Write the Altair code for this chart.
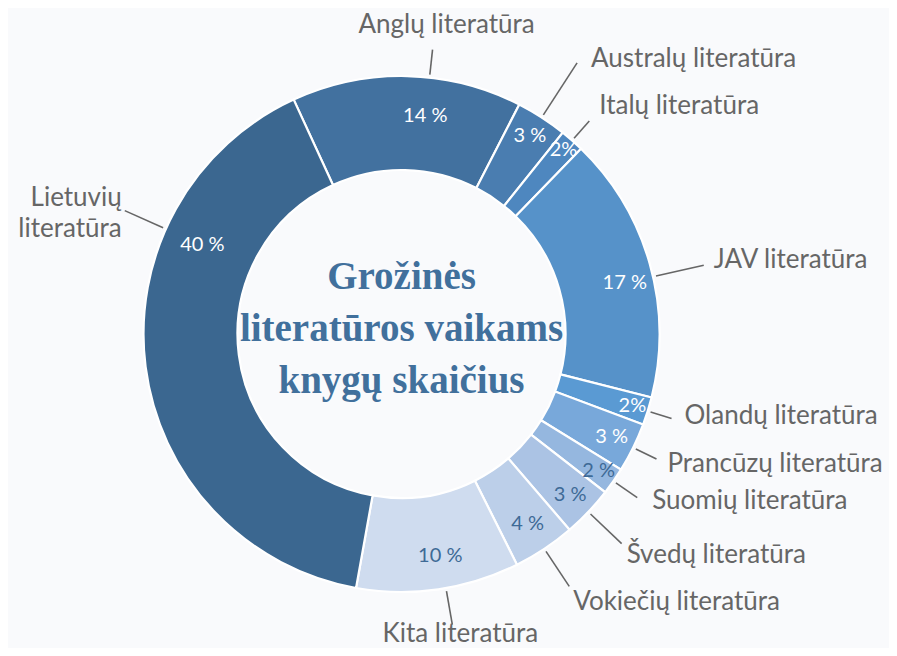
import math
import altair as alt
import pandas as pd

# ---- data ----
categories = ["Anglų literatūra", "Australų literatūra", "Italų literatūra", "JAV literatūra",
              "Olandų literatūra", "Prancūzų literatūra", "Suomių literatūra", "Švedų literatūra",
              "Vokiečių literatūra", "Kita literatūra", "Lietuvių\nliteratūra"]
shares = [14.4, 3.2, 1.5, 16.7, 1.75, 3.1, 1.7, 3.2, 3.9, 10.2, 40.3]
pct_labels = ["14 %", "3 %", "2%", "17 %", "2%", "3 %", "2 %", "3 %", "4 %", "10 %", "40 %"]
colors = ["#42719f", "#4a7db0", "#4e87bf", "#5692c9", "#5a9ad3", "#78a8da", "#95b7df",
          "#abc3e4", "#bccfe9", "#cfdcef", "#3b6790"]
title_lines = ["Grožinės", "literatūros vaikams", "knygų skaičius"]

# ---- layout ----
W, H = 881, 640
CX, CY = 393.5, 326.0
R_OUT, R_IN = 258, 164
START_DEG = -24.7
anchor_shift = [5, 0, 0, 3, 0, 0, 0, 0, 0, -1.7, 31.3]
pct_r = [219, 236, 245, 229, 242, 234, 240, 233, 228, 225, 218]
line_r0 = 261
line_r1 = [286, 323, 284, 310, 283, 284, 287, 304, 303, 295, 303]
lab_dx = [14, 14, 10, 10, 13, 11, 15, 5, 4, 8, -3]
lab_dy = [-25, -4, -15, -5.5, -3, 4.5, 3, 11, 16, 9, -13]
lab_align = ["center", "left", "left", "left", "left", "left", "left", "left", "left", "center", "right"]
pct_dark = [False] * 6 + [True] * 4 + [False]

total = sum(shares)
rows = []
cum = 0.0
for i, (c, v) in enumerate(zip(categories, shares)):
    mid = START_DEG + (cum + v / 2) / total * 360 + anchor_shift[i]
    cum += v
    a = math.radians(mid)
    s, co = math.sin(a), math.cos(a)
    x1 = CX + line_r1[i] * s
    y1 = CY - line_r1[i] * co
    rows.append(dict(
        idx=i, cat=c, value=v, pct=pct_labels[i], dark=pct_dark[i],
        px=CX + pct_r[i] * s, py=CY - pct_r[i] * co,
        lx0=CX + line_r0 * s, ly0=CY - line_r0 * co, lx1=x1, ly1=y1,
        tx=x1 + lab_dx[i], ty=y1 + lab_dy[i], align=lab_align[i],
    ))
df = pd.DataFrame(rows)

xs = alt.Scale(domain=[0, W], range=[0, W], nice=False, zero=False)
ys = alt.Scale(domain=[0, H], range=[0, H], nice=False, zero=False)
X = lambda f: alt.X(f, type="quantitative", scale=xs, axis=None)
Y = lambda f: alt.Y(f, type="quantitative", scale=ys, axis=None)

base = alt.Chart(df)

arcs = base.mark_arc(outerRadius=R_OUT, innerRadius=R_IN, stroke="white", strokeWidth=2.2).encode(
    theta=alt.Theta("value:Q", stack=True,
                    scale=alt.Scale(range=[math.radians(START_DEG), math.radians(START_DEG) + 2 * math.pi])),
    order=alt.Order("idx:Q"),
    color=alt.Color("cat:N", scale=alt.Scale(domain=categories, range=colors), legend=None),
    x=alt.value(CX), y=alt.value(CY),
)

pct_light = base.transform_filter("!datum.dark").mark_text(
    font="Lato", fontSize=20, color="white", align="center", baseline="middle"
).encode(x=X("px"), y=Y("py"), text="pct:N")
pct_darkl = base.transform_filter("datum.dark").mark_text(
    font="Lato", fontSize=20, color="#3e6a96", align="center", baseline="middle"
).encode(x=X("px"), y=Y("py"), text="pct:N")

leaders = base.mark_rule(color="#666666", strokeWidth=1.6).encode(
    x=X("lx0"), y=Y("ly0"), x2="lx1", y2="ly1"
)

label_layers = []
for al in ["left", "right", "center"]:
    label_layers.append(
        base.transform_filter(alt.datum.align == al).mark_text(
            font="Lato", fontSize=26, color="#666666", align=al, baseline="middle",
            lineBreak="\n", lineHeight=31
        ).encode(x=X("tx"), y=Y("ty"), text="cat:N")
    )

title = alt.Chart(pd.DataFrame({"t": ["\n".join(title_lines)]})).mark_text(
    font="Liberation Serif", fontWeight="bold", fontSize=39, color="#41709c",
    align="center", baseline="middle", lineBreak="\n", lineHeight=52
).encode(x=alt.value(CX), y=alt.value(CY - 57), text="t:N")

chart = alt.layer(arcs, leaders, pct_light, pct_darkl, *label_layers, title).properties(
    width=W, height=H, padding=0, autosize=alt.AutoSizeParams(type="none"),
    background="#f9fafc"
).configure_view(stroke=None)

chart.save("out.html", embed_options={"renderer": "svg", "actions": False})
